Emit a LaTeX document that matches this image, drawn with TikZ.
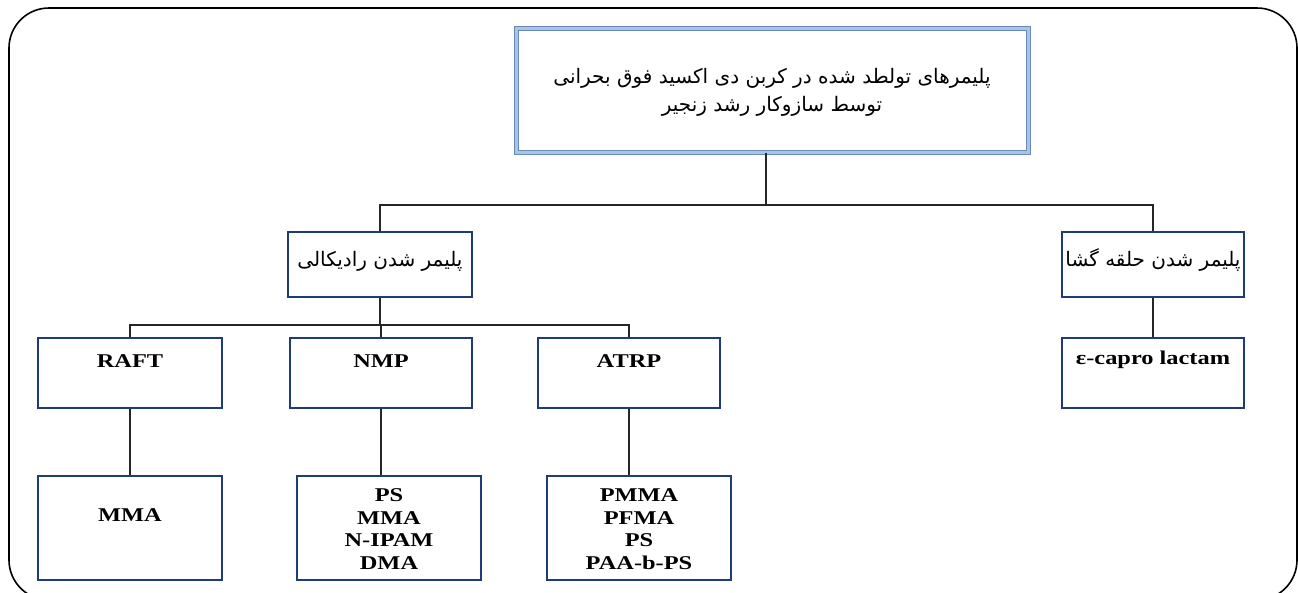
\documentclass[tikz,border=0pt]{standalone}
\usepackage{fontspec}
\setmainfont{Liberation Serif}
\newfontfamily\fa[Script=Arabic]{DejaVu Sans}
\newfontfamily\lat[FakeStretch=1.25]{Liberation Serif}
\TeXXeTstate=1
\definecolor{boxblue}{RGB}{31,60,122}
\definecolor{edgeblue}{RGB}{105,138,180}
\definecolor{paleblue}{RGB}{165,198,232}
\tikzset{
  box/.style={draw=boxblue, line width=2.2pt, fill=white, inner sep=0pt},
  titlebox/.style={draw=edgeblue, line width=1pt, double=paleblue, double distance=3pt,
                   fill=white, inner sep=0pt},
  fatext/.style={font=\fa\fontsize{20}{28}\selectfont, align=center, inner sep=0pt},
  latext/.style={font=\lat\bfseries\fontsize{19.5}{22.6}\selectfont, align=center, inner sep=0pt},
  link/.style={draw=black!85, line width=1.3pt}
}
\begin{document}
\begin{tikzpicture}[x=1pt,y=-1pt]
\useasboundingbox (0,0) rectangle (1298,592);
% outer frame
\draw[line width=1.6pt, rounded corners=40pt] (9,8) rectangle (1297,600);

% title
\node[titlebox, minimum width=512, minimum height=124] (top) at (772,90) {};
\node[fatext] (topt) at ([yshift=-2pt]top.center) {\beginR پلیمرهای تولطد شده در کربن دی اکسید فوق بحرانی\endR\\ \beginR توسط سازوکار رشد زنجیر\endR};

% second level
\node[box, minimum width=184, minimum height=65] (rad) at (380,264.5) {};
\node[fatext] (radt) at ([yshift=3pt]rad.center) {\beginR پلیمر شدن رادیکالی\endR};
\node[box, minimum width=182, minimum height=65] (ring) at (1153,264.5) {};
\node[fatext] (ringt) at ([yshift=5pt]ring.center) {\beginR پلیمر شدن حلقه گشا\endR};

% mechanisms
\node[box, minimum width=184, minimum height=70] (raft) at (130,373) {};
\node[latext] (raftt) at ([yshift=12pt]raft.center) {RAFT};
\node[box, minimum width=182, minimum height=70] (nmp) at (381,373) {};
\node[latext] (nmpt) at ([yshift=12pt]nmp.center) {NMP};
\node[box, minimum width=182, minimum height=70] (atrp) at (629,373) {};
\node[latext] (atrpt) at ([yshift=12pt]atrp.center) {ATRP};
\node[box, minimum width=182, minimum height=70] (eps) at (1153,373) {};
\node[latext] (epst) at ([yshift=13pt]eps.center) {ε-capro lactam};

% monomers / polymers
\node[box, minimum width=184, minimum height=104] (mma) at (130,528) {};
\node[latext] (mmat) at ([yshift=13pt]mma.center) {MMA};
\node[box, minimum width=184, minimum height=104] (ps) at (389,528) {};
\node[latext] (pst) at ([yshift=-1pt]ps.center) {PS\\MMA\\N-IPAM\\DMA};
\node[box, minimum width=184, minimum height=104] (pmma) at (639,528) {};
\node[latext] (pmmat) at ([yshift=-1pt]pmma.center) {PMMA\\PFMA\\PS\\PAA-b-PS};

% junctions
\coordinate (j1) at (766,205);
\coordinate (j2) at (380,325);

% connectors
\draw[link] (top.south -| j1) -- (j1);
\draw[link] (rad.north) -- (rad.north |- j1) -- (ring.north |- j1) -- (ring.north);
\draw[link] (rad.south) -- (rad.south |- j2);
\draw[link] (raft.north) -- (raft.north |- j2) -- (atrp.north |- j2) -- (atrp.north);
\draw[link] (nmp.north) -- (nmp.north |- j2);
\draw[link] (raft.south) -- (mma.north);
\draw[link] (nmp.south) -- (nmp.south |- ps.north);
\draw[link] (atrp.south) -- (atrp.south |- pmma.north);
\draw[link] (ring.south) -- (eps.north);
\end{tikzpicture}
\end{document}
